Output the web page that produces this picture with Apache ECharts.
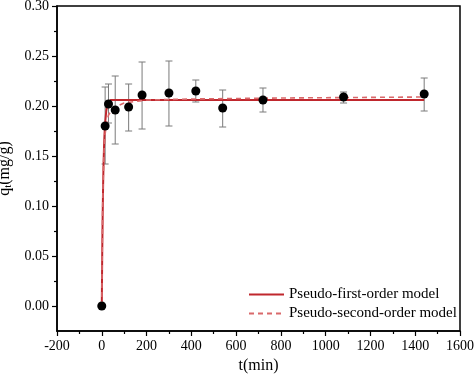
<!DOCTYPE html>
<html>
<head>
<meta charset="utf-8">
<script src="https://cdn.jsdelivr.net/npm/echarts@6/dist/echarts.min.js"></script>
<style>
  html, body { margin: 0; padding: 0; background: #fff; }
  #main { width: 474px; height: 378px; }
</style>
</head>
<body>
<div id="main"></div>
<script>
// measured points (t in min, q in mg/g)
var tPoints = [0, 15, 30, 60, 120, 180, 300, 420, 540, 720, 1080, 1440];
var qPoints = [0, 0.180, 0.202, 0.196, 0.199, 0.211, 0.213, 0.215, 0.198, 0.206, 0.209, 0.212];
var qUpper = [0, 0.219, 0.222, 0.230, 0.222, 0.244, 0.245, 0.226, 0.216, 0.218, 0.214, 0.228];
var qLower = [0, 0.142, 0.183, 0.162, 0.175, 0.177, 0.180, 0.204, 0.179, 0.194, 0.203, 0.195];

// fitted curves
var pfoT = [0, 2, 4, 6, 8, 10, 12, 15, 20, 25, 30, 40, 60, 1440];
var pfoQ = [0, 0.052, 0.091, 0.121, 0.143, 0.159, 0.171, 0.183, 0.195, 0.201, 0.204, 0.206, 0.206, 0.206];
var psoT = [0, 2, 4, 6, 8, 10, 15, 20, 30, 50, 100, 200, 400, 800, 1440];
var psoQ = [0, 0.060, 0.100, 0.125, 0.142, 0.155, 0.172, 0.181, 0.191, 0.198, 0.203, 0.206, 0.207, 0.208, 0.209];

var yMajor = [0, 0.05, 0.10, 0.15, 0.20, 0.25, 0.30];
var yMinor = [0.025, 0.075, 0.125, 0.175, 0.225, 0.275];

var chart = echarts.init(document.getElementById('main'));
var font = 'Liberation Serif';

function pairs(xs, ys) {
    var out = [];
    for (var i = 0; i < xs.length; i++) out.push([xs[i], ys[i]]);
    return out;
}

var errData = [];
for (var i = 0; i < tPoints.length; i++) {
    if (qUpper[i] !== qLower[i]) errData.push([tPoints[i], qLower[i], qUpper[i]]);
}

var option = {
    animation: false,
    backgroundColor: '#fff',
    grid: {
        left: 57, right: 14, top: 6, bottom: 47,
        outerBoundsMode: 'none',
        show: true, borderColor: '#000', borderWidth: 1.5, backgroundColor: 'transparent'
    },
    legend: {
        data: ['Pseudo-first-order model', 'Pseudo-second-order model'],
        orient: 'vertical',
        left: 243, top: 282,
        itemWidth: 35, itemHeight: 15, itemGap: 4, itemTextGap: 4,
        itemStyle: { opacity: 0, borderWidth: 0 },
        textStyle: { fontFamily: font, fontSize: 15, color: '#000' }
    },
    xAxis: {
        type: 'value',
        min: -200, max: 1600, interval: 200,
        name: 't(min)', nameLocation: 'middle', nameGap: 27,
        nameTextStyle: { fontFamily: font, fontSize: 16, color: '#000' },
        axisLine: { onZero: false, lineStyle: { color: '#000', width: 1.5 } },
        axisTick: { length: 5, lineStyle: { color: '#000', width: 1.2 } },
        minorTick: { show: true, splitNumber: 2, length: 3, lineStyle: { color: '#000', width: 1.2 } },
        axisLabel: {
            fontFamily: font, fontSize: 14, color: '#000', margin: 8,
            formatter: function (v) { return String(v); }
        },
        splitLine: { show: false }
    },
    yAxis: [{
        type: 'value',
        min: -0.025, max: 0.30,
        name: '{a|q}{b|t}{a|(mg/g)}', nameLocation: 'middle', nameGap: 43,
        nameTextStyle: {
            rich: {
                a: { fontFamily: font, fontSize: 16, color: '#000' },
                b: { fontFamily: font, fontSize: 11, color: '#000', verticalAlign: 'bottom', padding: [6, 0, 0, 0] }
            }
        },
        axisLine: { onZero: false, lineStyle: { color: '#000', width: 1.5 } },
        axisTick: { customValues: yMajor, length: 5, lineStyle: { color: '#000', width: 1.2 } },
        axisLabel: {
            customValues: yMajor,
            fontFamily: font, fontSize: 14, color: '#000', margin: 8,
            formatter: function (v) { return v.toFixed(2); }
        },
        splitLine: { show: false }
    }, {
        type: 'value',
        position: 'left',
        min: -0.025, max: 0.30,
        axisLine: { show: false, onZero: false },
        axisTick: { customValues: yMinor, length: 3, lineStyle: { color: '#000', width: 1.2 } },
        axisLabel: { show: false },
        splitLine: { show: false }
    }],
    series: [{
        name: 'err',
        type: 'custom',
        z: 1,
        data: errData,
        renderItem: function (params, api) {
            var lo = api.coord([api.value(0), api.value(1)]);
            var hi = api.coord([api.value(0), api.value(2)]);
            var w = 3.5;
            var st = { stroke: '#7a7a7a', lineWidth: 1 };
            return {
                type: 'group',
                children: [
                    { type: 'line', shape: { x1: lo[0], y1: lo[1], x2: hi[0], y2: hi[1] }, style: st },
                    { type: 'line', shape: { x1: lo[0] - w, y1: lo[1], x2: lo[0] + w, y2: lo[1] }, style: st },
                    { type: 'line', shape: { x1: hi[0] - w, y1: hi[1], x2: hi[0] + w, y2: hi[1] }, style: st }
                ]
            };
        }
    }, {
        name: 'Pseudo-first-order model',
        type: 'line',
        z: 2,
        symbol: 'none',
        data: pairs(pfoT, pfoQ),
        lineStyle: { color: '#c0272d', width: 2 },
        itemStyle: { color: '#c0272d' }
    }, {
        name: 'Pseudo-second-order model',
        type: 'line',
        z: 2,
        symbol: 'none',
        data: pairs(psoT, psoQ),
        lineStyle: { color: '#d9696b', width: 1.6, type: [5, 4] },
        itemStyle: { color: '#d9696b' }
    }, {
        name: 'data',
        type: 'scatter',
        z: 3,
        symbolSize: 9,
        data: pairs(tPoints, qPoints),
        itemStyle: { color: '#000', opacity: 1 }
    }]
};

chart.setOption(option);
</script>
</body>
</html>
